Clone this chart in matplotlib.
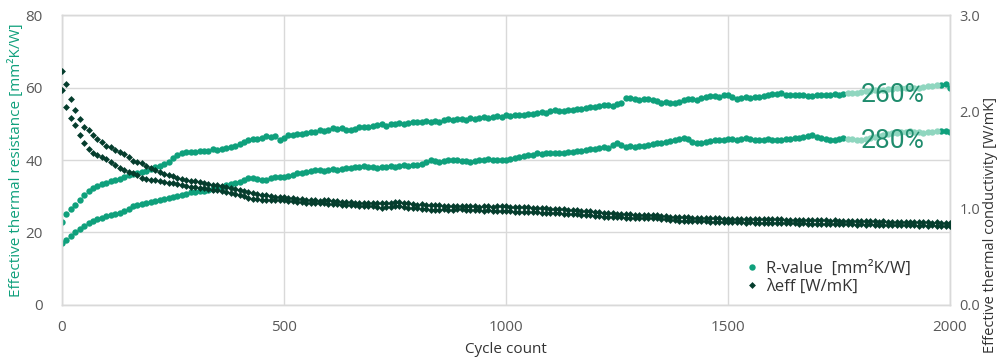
import numpy as np
import matplotlib
matplotlib.use("Agg")
import matplotlib.pyplot as plt
from matplotlib.lines import Line2D

plt.rcParams["font.family"] = ["Open Sans", "DejaVu Sans"]

# ── Data (one value every 10 cycles) ────────────────────────────────────────
cycles = np.arange(0, 2001, 10)

r_value_a = [
    22.8, 25.2, 26.4, 27.7, 28.9, 30.3, 31.4, 32.3, 32.9, 33.3,
    33.6, 34.1, 34.5, 34.7, 35.3, 35.9, 36.1, 36.5, 36.8, 37.1,
    37.6, 38.0, 38.4, 38.9, 39.5, 40.5, 41.3, 41.8, 42.2, 42.3,
    42.1, 42.4, 42.6, 42.5, 42.9, 42.8, 43.1, 43.3, 43.6, 43.8,
    44.4, 45.0, 45.4, 45.7, 45.8, 46.2, 46.6, 46.4, 46.7, 45.6,
    46.2, 46.8, 47.0, 47.3, 47.2, 47.5, 47.6, 47.8, 48.2, 47.9,
    48.3, 48.7, 48.5, 48.8, 48.4, 48.3, 48.6, 49.0, 49.2, 49.0,
    49.4, 49.6, 49.8, 49.5, 49.8, 50.0, 50.1, 49.9, 50.3, 50.5,
    50.6, 50.4, 50.7, 50.6, 50.8, 50.6, 50.9, 51.2, 51.0, 51.2,
    51.3, 51.1, 51.5, 51.4, 51.6, 51.8, 51.7, 51.9, 52.1, 52.0,
    52.4, 52.2, 52.5, 52.3, 52.4, 52.8, 52.6, 53.1, 53.3, 53.0,
    53.5, 53.8, 53.6, 53.4, 53.7, 53.8, 54.1, 54.0, 54.4, 54.7,
    54.5, 54.8, 55.1, 55.2, 55.0, 55.5, 55.6, 57.0, 57.1, 56.8,
    56.6, 56.9, 56.7, 56.6, 56.2, 55.8, 55.9, 55.6, 55.7, 56.0,
    56.5, 56.7, 56.8, 56.6, 57.0, 57.3, 57.6, 57.7, 57.5, 57.8,
    57.9, 57.4, 56.7, 57.0, 57.3, 57.2, 57.5, 57.4, 57.7, 57.9,
    58.1, 58.3, 58.4, 58.0, 57.8, 57.9, 58.0, 57.8, 57.6, 57.7,
    57.9, 57.8, 58.0, 57.9, 58.1, 58.0, 58.3, 58.4, 58.5, 58.6,
    58.8, 58.9, 59.0, 59.2, 59.3, 59.4, 59.6, 59.7, 59.8, 59.9,
    59.8, 59.9, 59.8, 60.0, 60.2, 60.4, 60.5, 60.6, 60.8, 61.0,
    59.9,
]

r_value_b = [
    17.0, 17.8, 18.9, 20.1, 20.9, 21.9, 22.7, 23.2, 23.6, 24.1,
    24.5, 24.7, 25.1, 25.5, 25.8, 26.6, 27.3, 27.6, 27.9, 28.1,
    28.4, 28.6, 28.9, 29.2, 29.4, 29.8, 30.0, 30.3, 30.7, 31.1,
    31.3, 31.4, 31.5, 31.7, 31.9, 32.2, 32.6, 33.0, 33.5, 33.7,
    34.0, 34.4, 34.9, 35.0, 34.7, 34.5, 34.6, 34.9, 35.2, 35.3,
    35.4, 35.7, 35.9, 36.3, 36.5, 36.8, 37.0, 37.2, 37.3, 37.1,
    37.2, 37.4, 37.3, 37.6, 37.7, 37.8, 38.0, 38.1, 38.3, 38.2,
    38.1, 37.9, 38.0, 38.2, 38.4, 38.2, 38.3, 38.5, 38.4, 38.6,
    38.7, 38.9, 39.4, 40.0, 39.8, 39.5, 39.7, 40.0, 39.9, 40.0,
    39.8, 39.7, 39.5, 39.8, 40.0, 40.1, 40.2, 40.0, 40.1, 39.9,
    40.0, 40.3, 40.5, 40.9, 41.0, 41.3, 41.5, 41.8, 41.7, 41.9,
    41.8, 41.8, 42.0, 41.9, 42.1, 42.3, 42.5, 42.6, 42.8, 42.9,
    43.0, 43.2, 43.5, 43.4, 44.1, 44.8, 44.2, 43.7, 43.8, 43.7,
    43.9, 44.0, 44.2, 44.4, 44.6, 44.8, 44.9, 45.3, 45.4, 45.7,
    46.0, 45.7, 45.1, 44.8, 44.6, 45.0, 45.3, 45.5, 45.4, 45.6,
    45.7, 45.8, 45.6, 45.9, 46.0, 45.8, 45.6, 45.5, 45.5, 45.7,
    45.6, 45.5, 45.5, 45.7, 45.8, 46.0, 46.1, 46.3, 46.6, 46.9,
    46.4, 46.0, 45.8, 45.5, 45.6, 45.8, 46.0, 45.9, 45.7, 45.6,
    45.5, 45.8, 46.1, 46.4, 46.6, 46.9, 47.2, 47.4, 47.5, 47.7,
    47.8, 47.9, 47.8, 47.6, 47.5, 47.6, 47.8, 48.0, 48.1, 48.1,
    47.8,
]

lambda_a = [
    2.42, 2.29, 2.13, 2.02, 1.92, 1.84, 1.81, 1.76, 1.72, 1.69,
    1.65, 1.63, 1.60, 1.58, 1.56, 1.53, 1.49, 1.48, 1.47, 1.44,
    1.42, 1.40, 1.38, 1.36, 1.34, 1.33, 1.31, 1.30, 1.29, 1.28,
    1.28, 1.27, 1.26, 1.25, 1.24, 1.24, 1.23, 1.22, 1.21, 1.20,
    1.19, 1.18, 1.17, 1.16, 1.15, 1.14, 1.14, 1.13, 1.12, 1.12,
    1.12, 1.11, 1.11, 1.10, 1.10, 1.09, 1.09, 1.09, 1.08, 1.09,
    1.09, 1.08, 1.08, 1.07, 1.07, 1.07, 1.06, 1.06, 1.05, 1.05,
    1.05, 1.06, 1.05, 1.05, 1.06, 1.07, 1.07, 1.06, 1.05, 1.04,
    1.03, 1.04, 1.03, 1.03, 1.03, 1.03, 1.02, 1.02, 1.02, 1.02,
    1.02, 1.02, 1.02, 1.02, 1.01, 1.02, 1.02, 1.01, 1.02, 1.02,
    1.02, 1.01, 1.01, 1.01, 1.01, 1.01, 1.00, 1.00, 1.00, 1.00,
    0.99, 0.99, 0.99, 0.99, 0.98, 0.98, 0.98, 0.97, 0.97, 0.97,
    0.96, 0.96, 0.95, 0.95, 0.95, 0.94, 0.94, 0.94, 0.94, 0.93,
    0.93, 0.93, 0.93, 0.93, 0.93, 0.92, 0.92, 0.91, 0.91, 0.91,
    0.91, 0.91, 0.90, 0.90, 0.90, 0.90, 0.90, 0.90, 0.90, 0.89,
    0.89, 0.89, 0.89, 0.89, 0.89, 0.89, 0.89, 0.89, 0.89, 0.89,
    0.89, 0.89, 0.89, 0.88, 0.88, 0.88, 0.88, 0.88, 0.88, 0.88,
    0.88, 0.88, 0.88, 0.87, 0.88, 0.87, 0.87, 0.87, 0.87, 0.87,
    0.87, 0.87, 0.87, 0.87, 0.86, 0.87, 0.86, 0.86, 0.86, 0.86,
    0.86, 0.86, 0.86, 0.86, 0.86, 0.86, 0.85, 0.86, 0.85, 0.85,
    0.85,
]

lambda_b = [
    2.22, 2.05, 1.93, 1.86, 1.76, 1.68, 1.61, 1.57, 1.55, 1.53,
    1.51, 1.48, 1.45, 1.42, 1.40, 1.38, 1.37, 1.34, 1.31, 1.30,
    1.29, 1.29, 1.28, 1.27, 1.26, 1.26, 1.25, 1.24, 1.23, 1.22,
    1.22, 1.21, 1.21, 1.20, 1.19, 1.19, 1.18, 1.17, 1.16, 1.15,
    1.14, 1.13, 1.11, 1.10, 1.10, 1.09, 1.09, 1.09, 1.09, 1.09,
    1.09, 1.08, 1.08, 1.07, 1.07, 1.06, 1.06, 1.05, 1.05, 1.05,
    1.04, 1.04, 1.04, 1.03, 1.03, 1.03, 1.03, 1.02, 1.02, 1.02,
    1.02, 1.01, 1.00, 1.01, 1.01, 1.02, 1.02, 1.01, 1.00, 1.00,
    1.00, 0.99, 0.99, 0.98, 0.98, 0.98, 0.99, 0.98, 0.98, 0.99,
    0.99, 0.98, 0.98, 0.98, 0.98, 0.97, 0.98, 0.97, 0.97, 0.97,
    0.97, 0.97, 0.96, 0.96, 0.96, 0.96, 0.96, 0.96, 0.95, 0.95,
    0.95, 0.95, 0.95, 0.94, 0.94, 0.94, 0.94, 0.93, 0.93, 0.93,
    0.92, 0.92, 0.91, 0.91, 0.91, 0.91, 0.91, 0.90, 0.90, 0.90,
    0.90, 0.90, 0.90, 0.90, 0.90, 0.89, 0.89, 0.88, 0.88, 0.87,
    0.87, 0.87, 0.87, 0.87, 0.87, 0.87, 0.86, 0.86, 0.86, 0.86,
    0.86, 0.86, 0.86, 0.86, 0.85, 0.86, 0.85, 0.85, 0.85, 0.85,
    0.85, 0.85, 0.85, 0.85, 0.85, 0.85, 0.84, 0.85, 0.84, 0.84,
    0.84, 0.84, 0.84, 0.84, 0.84, 0.84, 0.84, 0.84, 0.84, 0.83,
    0.84, 0.83, 0.84, 0.83, 0.83, 0.83, 0.83, 0.83, 0.83, 0.83,
    0.83, 0.83, 0.83, 0.82, 0.83, 0.82, 0.83, 0.82, 0.82, 0.82,
    0.82,
]

pct_labels = ["260%", "280%"]
highlight = (1770, 1975)   # cycle window drawn in the light tint

# ── Style ────────────────────────────────────────────────────────────────────
GREEN = "#0fa07c"
LIGHT = "#8fd6bf"
DARK = "#053d2d"
PCT_COLOR = "#1f8c6d"
GRID = "#d9d9d9"
TICK = "#595959"

fig = plt.figure(figsize=(9.98, 3.6), dpi=100)
ax = fig.add_axes([0.0621, 0.1528, 0.8898, 0.8055])
ax2 = ax.twinx()

cyc = np.array(cycles)
in_hl = (cyc >= highlight[0]) & (cyc <= highlight[1])
for series in (r_value_a, r_value_b):
    s = np.array(series)
    ax.plot(cyc[~in_hl], s[~in_hl], "o", ms=4.6, mew=0, color=GREEN, zorder=3)
    ax.plot(cyc[in_hl], s[in_hl], "o", ms=4.6, mew=0, color=LIGHT, zorder=3)

for series in (lambda_a, lambda_b):
    ax2.plot(cyc, series, "D", ms=3.5, mew=0, color=DARK, zorder=3)

# percentage annotations next to the highlighted window
ax.text(1872, 56.1, pct_labels[0], fontsize=19, color=PCT_COLOR,
        ha="center", va="baseline", family=["Roboto", "DejaVu Sans"], zorder=5)
ax.text(1872, 43.3, pct_labels[1], fontsize=19, color=PCT_COLOR,
        ha="center", va="baseline", family=["Roboto", "DejaVu Sans"], zorder=5)

ax.set_xlim(0, 2000)
ax.set_ylim(0, 80)
ax2.set_ylim(0, 3.0)
ax.set_xticks([0, 500, 1000, 1500, 2000])
ax.set_yticks([0, 20, 40, 60, 80])
ax2.set_yticks([0, 1, 2, 3])
ax2.set_yticklabels(["0.0", "1.0", "2.0", "3.0"])

ax.grid(True, color=GRID, lw=1, zorder=0)
ax.set_axisbelow(True)
for a in (ax, ax2):
    for sp in a.spines.values():
        sp.set_color(GRID)
        sp.set_linewidth(1)
ax.tick_params(axis="both", length=0, labelsize=11, labelcolor=TICK)
ax.tick_params(axis="y", pad=14)
ax.tick_params(axis="x", pad=11)
ax2.tick_params(axis="y", length=0, labelsize=10.5, labelcolor=TICK, pad=7)

ax.set_xlabel("Cycle count", fontsize=11, color="#333333", labelpad=5)
fig.text(0.016, 0.556, "Effective thermal resistance [mm²K/W]", rotation=90,
         ha="center", va="center", fontsize=11, color=GREEN)
fig.text(0.9925, 0.02, "Effective thermal conductivity [W/mK]", rotation=90,
         ha="center", va="bottom", fontsize=10.5, color="#333333")

handles = [
    Line2D([], [], ls="none", marker="o", ms=4.6, mew=0, color=GREEN),
    Line2D([], [], ls="none", marker="D", ms=3.5, mew=0, color=DARK),
]
ax2.legend(handles, ["R-value  [mm²K/W]", "λeff [W/mK]"], loc="upper left",
           bbox_to_anchor=(0.755, 0.205), frameon=False, fontsize=12,
           handlelength=0.6, handletextpad=0.5, labelspacing=0.15,
           labelcolor="#333333")

fig.savefig("out.png", dpi=100)
